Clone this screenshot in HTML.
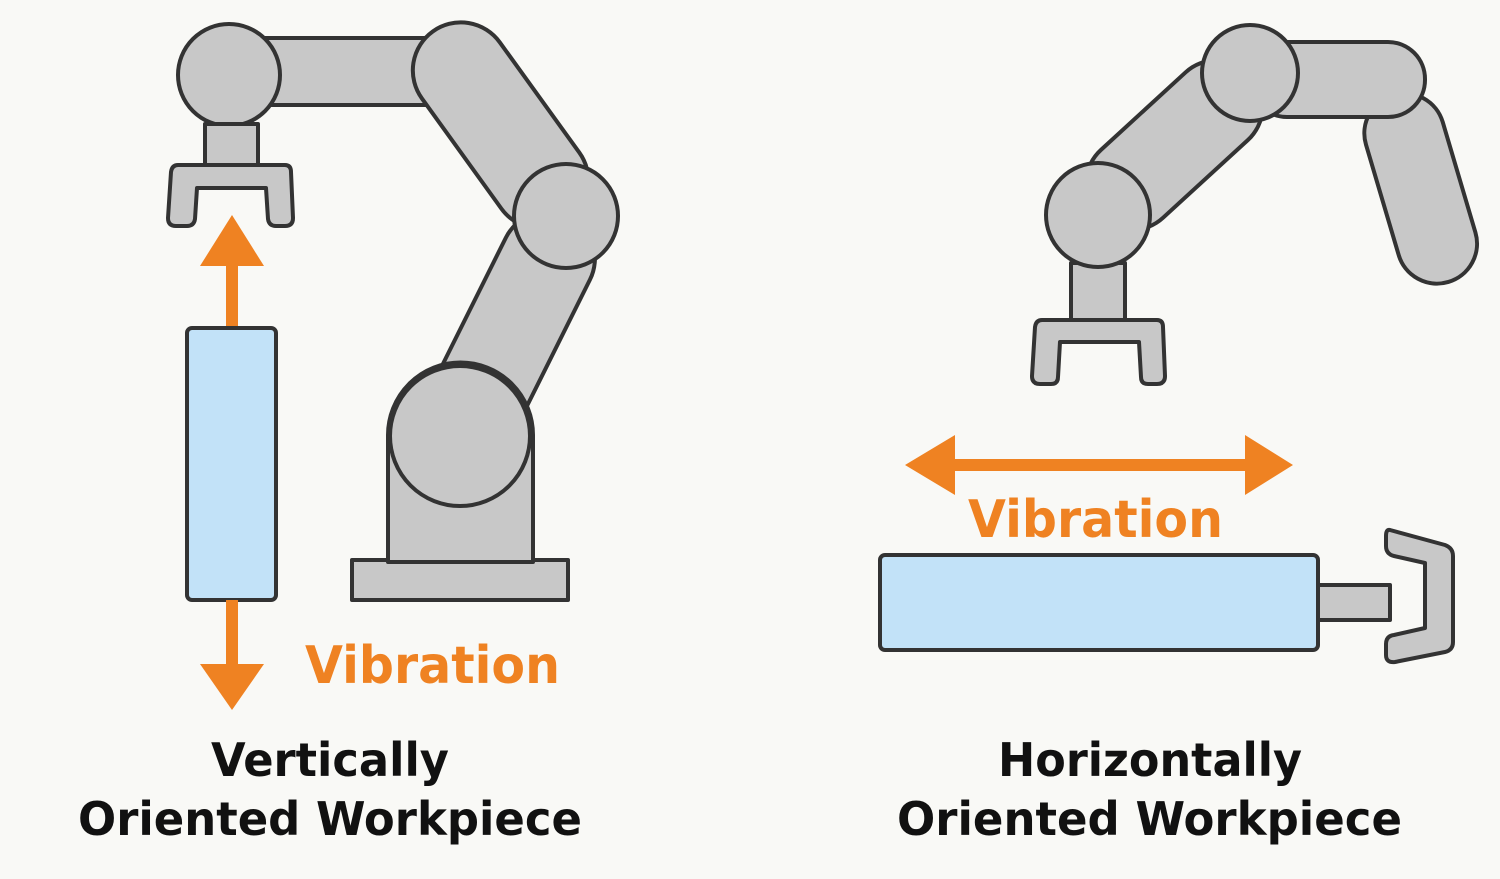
<!DOCTYPE html>
<html><head><style>html,body{margin:0;padding:0;background:#f9f9f6;}svg{display:block}</style></head>
<body>
<svg width="1500" height="879" viewBox="0 0 1500 879" xmlns="http://www.w3.org/2000/svg">
<rect width="1500" height="879" fill="#f9f9f6"/>
<g fill="#c8c8c8" stroke="#333" stroke-width="4" stroke-linejoin="round">
<!-- LEFT ROBOT -->
<rect x="352" y="560" width="216" height="40"/>
<g transform="translate(460,435) rotate(-63.5)"><rect x="0" y="-47" width="244" height="94" rx="47"/></g>
<path d="M388 562 L388 435 A72.5 72.5 0 0 1 533 435 L533 562 Z"/>
<circle cx="460" cy="436" r="70"/>
<rect x="230" y="38" width="225" height="67"/>
<g transform="translate(462,72) rotate(54.2)"><rect x="-50" y="-48" width="232" height="96" rx="48"/></g>
<circle cx="566" cy="216" r="52"/>
<circle cx="229" cy="75" r="51"/>
<rect x="205" y="124" width="53" height="42"/>
<path d="M178 165 L285 165 Q291 165 291 172 L293 218 Q293 226 285 226 L276 226 Q269 226 268 219 L266 188 L197 188 L195 219 Q194 226 187 226 L176 226 Q168 226 168 218 L171 172 Q172 165 178 165 Z"/>
<!-- RIGHT ROBOT -->
<g transform="translate(1393,95) rotate(73.5)"><rect x="0" y="-40" width="195" height="80" rx="40"/></g>
<rect x="1250" y="42" width="175" height="75" rx="37"/>
<g transform="translate(1098,215) rotate(-42.5)"><rect x="0" y="-46" width="207" height="92" rx="46"/></g>
<circle cx="1250" cy="73" r="48"/>
<rect x="1071" y="263" width="54" height="58"/>
<circle cx="1098" cy="215" r="52"/>
<path d="M1042 320 L1157 320 Q1163 320 1163 327 L1165 376 Q1165 384 1157 384 L1148 384 Q1141 384 1141 377 L1139 342 L1060 342 L1058 377 Q1058 384 1051 384 L1040 384 Q1032 384 1032 376 L1035 327 Q1036 320 1042 320 Z"/>
<rect x="1318" y="585" width="72" height="35"/>
<path d="M1390 530 L1445 545 Q1453 548 1453 556 L1453 642 Q1453 650 1445 652 L1395 662 Q1386 663 1386 655 L1386 644 Q1386 636 1394 635 L1425 628 L1425 563 L1394 556 Q1386 554 1386 546 L1386 536 Q1386 529 1390 530 Z"/>
</g>
<!-- workpieces -->
<rect x="187" y="328" width="89" height="272" rx="5" fill="#c2e2f8" stroke="#333" stroke-width="4"/>
<rect x="880" y="555" width="438" height="95" rx="5" fill="#c2e2f8" stroke="#333" stroke-width="4"/>
<!-- arrows -->
<g fill="#ef8222">
<rect x="226" y="260" width="12" height="66"/>
<polygon points="200,266 264,266 232,215"/>
<rect x="226" y="600" width="12" height="66"/>
<polygon points="200,664 264,664 232,710"/>
<rect x="945" y="459" width="305" height="12"/>
<polygon points="955,435 955,495 905,465"/>
<polygon points="1245,435 1245,495 1293,465"/>
</g>
<g font-family="'DejaVu Sans','Liberation Sans',sans-serif" font-weight="bold">
<text x="305" y="683" font-size="52" fill="#ef8222" textLength="255" lengthAdjust="spacingAndGlyphs">Vibration</text>
<text x="968" y="537" font-size="52" fill="#ef8222" textLength="255" lengthAdjust="spacingAndGlyphs">Vibration</text>
<g fill="#111" font-size="46">
<text x="211" y="776" textLength="238" lengthAdjust="spacingAndGlyphs">Vertically</text>
<text x="78" y="835" textLength="504" lengthAdjust="spacingAndGlyphs">Oriented Workpiece</text>
<text x="998" y="776" textLength="304" lengthAdjust="spacingAndGlyphs">Horizontally</text>
<text x="897" y="835" textLength="505" lengthAdjust="spacingAndGlyphs">Oriented Workpiece</text>
</g>
</g>
</svg>
</body></html>
